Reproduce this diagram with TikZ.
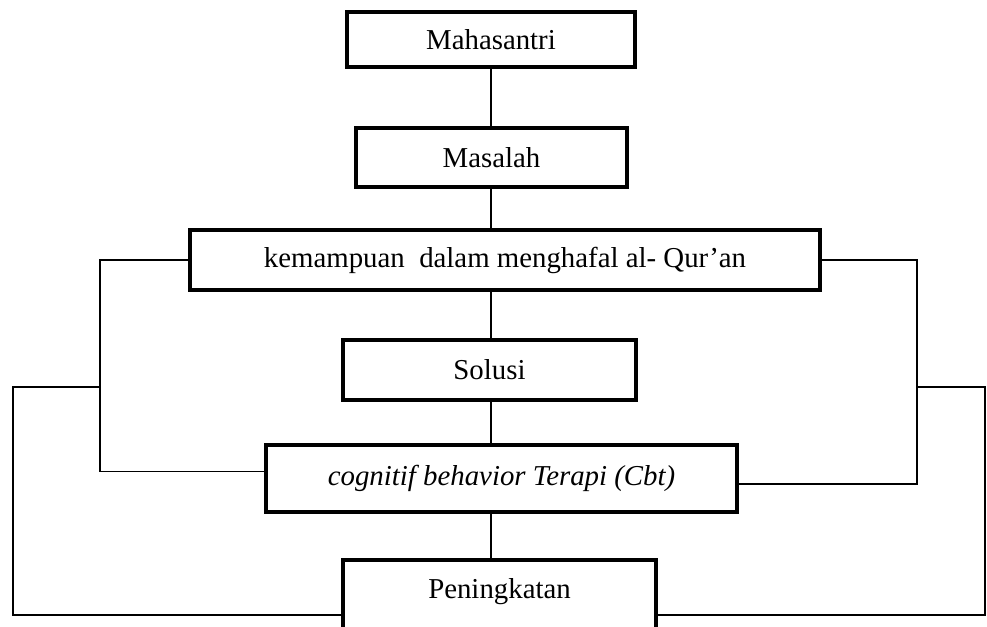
\documentclass[tikz,border=0pt]{standalone}
\usepackage{fontspec}
\setmainfont{Liberation Serif}
\usetikzlibrary{positioning,calc}
\tikzset{
  kotak/.style={draw, line width=1.8pt, inner sep=0pt, font=\fontsize{12.8}{15}\selectfont},
  garis/.style={line width=0.6pt}
}
\begin{document}
\begin{tikzpicture}[x=0.444pt,y=-0.444pt]
            \useasboundingbox (0,0) rectangle (987,626);
            \node[kotak, minimum width=127.9pt, minimum height=24.4pt] (maha) at (491,39.5) {Mahasantri};
            \node[kotak, minimum width=120.3pt, minimum height=26.2pt] (masalah) at (491.5,157.5) {Masalah};
            \node[kotak, minimum width=279.7pt, minimum height=26.6pt] (kemampuan) at (505,260) {kemampuan\ \ dalam menghafal al-\ Qur’an};
            \node[kotak, minimum width=130.1pt, minimum height=26.6pt] (solusi) at (489.5,370) {Solusi};
            \node[kotak, minimum width=209.1pt, minimum height=29.7pt] (cbt) at (501.5,478.5) {\itshape cognitif behavior Terapi (Cbt)};
            \node[kotak, minimum width=139pt, text height=17pt, text depth=22pt, anchor=north] (naik) at (499.5,558) {Peningkatan};

            \coordinate (sp) at (491,0);
            \draw[garis] (maha.south -| sp) -- (masalah.north -| sp);
            \draw[garis] (masalah.south -| sp) -- (kemampuan.north -| sp);
            \draw[garis] (kemampuan.south -| sp) -- (solusi.north -| sp);
            \draw[garis] (solusi.south -| sp) -- (cbt.north -| sp);
            \draw[garis] (cbt.south -| sp) -- (naik.north -| sp);

            \coordinate (kiri) at (100,387);
            \coordinate (kanan) at (917,387);
            \coordinate (bawahkiri) at (13,615);
            \coordinate (bawahkanan) at (985,615);
            \draw[garis] (kemampuan.west) -| (kiri) |- ([yshift=3pt]cbt.west);
            \draw[garis] (kemampuan.east) -| (kanan) |- ([yshift=-2.4pt]cbt.east);
            \draw[garis] (kiri) -| (bawahkiri) -- (bawahkiri -| naik.west);
            \draw[garis] (kanan) -| (bawahkanan) -- (bawahkanan -| naik.east);
        \end{tikzpicture}
\end{document}
